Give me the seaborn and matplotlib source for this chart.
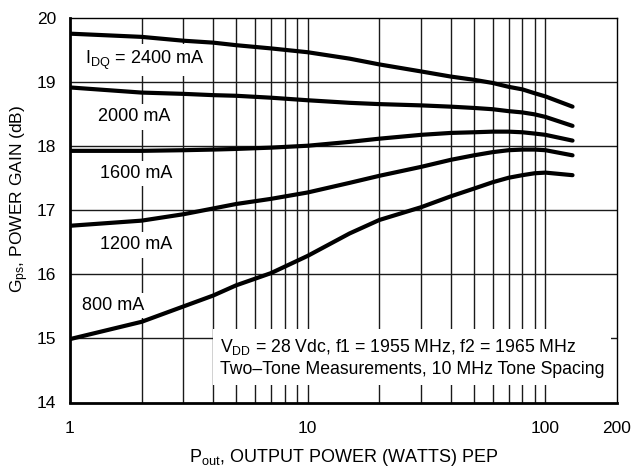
import numpy as np
import pandas as pd
import matplotlib
matplotlib.use("Agg")
import matplotlib.pyplot as plt
import seaborn as sns
from matplotlib.ticker import FixedLocator, NullFormatter

# ---- data ----
pout = [1, 2, 3, 4, 5, 7, 10, 15, 20, 30, 40, 50, 60, 70, 80, 90, 100, 130]
g2400 = [19.76, 19.71, 19.65, 19.62, 19.58, 19.53, 19.47, 19.37, 19.28, 19.17, 19.09, 19.04, 18.99, 18.93, 18.89, 18.83, 18.78, 18.62]
g2000 = [18.92, 18.84, 18.82, 18.80, 18.79, 18.76, 18.72, 18.68, 18.66, 18.64, 18.62, 18.60, 18.58, 18.55, 18.53, 18.50, 18.46, 18.32]
g1600 = [17.93, 17.93, 17.94, 17.95, 17.96, 17.98, 18.01, 18.07, 18.12, 18.18, 18.21, 18.22, 18.23, 18.23, 18.22, 18.20, 18.18, 18.09]
g1200 = [16.76, 16.84, 16.94, 17.03, 17.10, 17.18, 17.28, 17.43, 17.54, 17.68, 17.79, 17.86, 17.91, 17.94, 17.95, 17.95, 17.94, 17.86]
g800 = [14.99, 15.26, 15.50, 15.67, 15.83, 16.02, 16.29, 16.64, 16.85, 17.05, 17.22, 17.34, 17.44, 17.51, 17.55, 17.58, 17.59, 17.55]
series_names = ["2400", "2000", "1600", "1200", "800"]
xticks = [1, 10, 100, 200]
xticklabels = ["1", "10", "100", "200"]
yticks = [14, 15, 16, 17, 18, 19, 20]

frames = []
for name, vals in zip(series_names, [g2400, g2000, g1600, g1200, g800]):
    frames.append(pd.DataFrame({"Pout": pout, "Gps": vals, "IDQ": name}))
df = pd.concat(frames, ignore_index=True)

sns.set_style("white")
plt.rcParams["font.family"] = ["Liberation Sans", "DejaVu Sans"]
plt.rcParams["mathtext.fontset"] = "custom"
plt.rcParams["mathtext.rm"] = "Liberation Sans"
plt.rcParams["mathtext.it"] = "Liberation Sans"
plt.rcParams["text.color"] = "black"
plt.rcParams["axes.labelcolor"] = "black"
plt.rcParams["xtick.color"] = "black"
plt.rcParams["ytick.color"] = "black"

fig = plt.figure(figsize=(6.34, 4.74), dpi=100)
ax = fig.add_axes([70 / 634, 1 - 402.5 / 474, (617 - 70) / 634, (402.5 - 18.3) / 474])

ax.set_xscale("log")
ax.set_xlim(1, 200)
ax.set_ylim(14, 20)

# grid: minor log lines 2..100, horizontal lines
vgrid = [v for d in (1, 10) for v in np.arange(1, 10) * d][1:] + [100]
for v in vgrid:
    ax.axvline(v, color="#1a1a1a", lw=1.0, zorder=1)
for h in [15, 16, 17, 18, 19]:
    ax.axhline(h, color="#1a1a1a", lw=1.0, zorder=1)

sns.lineplot(data=df, x="Pout", y="Gps", hue="IDQ", palette=["black"] * 5,
             linewidth=3.0, legend=False, ax=ax, zorder=3, sort=True)
for ln in ax.lines[-5:]:
    ln.set_solid_capstyle("round")
    ln.set_solid_joinstyle("round")

ax.xaxis.set_major_locator(FixedLocator(xticks))
ax.set_xticklabels(xticklabels)
ax.xaxis.set_minor_formatter(NullFormatter())
ax.xaxis.set_minor_locator(FixedLocator([]))
ax.set_yticks(yticks)
ax.tick_params(axis="x", length=0, labelsize=12.5, pad=13, labelcolor="black")
ax.tick_params(axis="y", length=0, labelsize=12.5, pad=10, labelcolor="black")

for s in ["left", "bottom"]:
    ax.spines[s].set_linewidth(2.0)
for s in ["top", "right"]:
    ax.spines[s].set_linewidth(1.0)
for s in ax.spines.values():
    s.set_color("black")

ax.set_xlabel(r"P$_{\mathregular{out}}$, OUTPUT POWER (WATTS) PEP", fontsize=13,
              va="baseline", ha="center", color="black")
ax.xaxis.set_label_coords(0.5, (402.5 - 462.5) / 384.2)
ax.set_ylabel(r"G$_{\mathregular{ps}}$, POWER GAIN (dB)", fontsize=12.5,
              va="center", ha="center", color="black")
ax.yaxis.set_label_coords((20 - 70) / 547, (402.5 - 199) / 384.2)

box = dict(facecolor="white", edgecolor="none", pad=3)
fs = 13
ax.text(1.156, 19.35, r"I$_{\mathregular{DQ}}$ = 2400 mA", fontsize=fs, va="center", ha="left", bbox=box, zorder=2, color="black")
ax.text(1.311, 18.46, "2000 mA", fontsize=fs, va="center", ha="left", bbox=box, zorder=2, color="black")
ax.text(1.337, 17.58, "1600 mA", fontsize=fs, va="center", ha="left", bbox=box, zorder=2, color="black")
ax.text(1.337, 16.46, "1200 mA", fontsize=fs, va="center", ha="left", bbox=box, zorder=2, color="black")
ax.text(1.123, 15.51, "800 mA", fontsize=fs, va="center", ha="left", bbox=box, zorder=2, color="black")
ax.text(4.27, 14.70,
        "V$_{\\mathregular{DD}}$ = 28 Vdc, f1 = 1955 MHz, f2 = 1965 MHz\nTwo\u2013Tone Measurements, 10 MHz Tone Spacing",
        fontsize=12.7, va="center", ha="left", linespacing=1.35, color="black",
        bbox=dict(facecolor="white", edgecolor="none", pad=5), zorder=2)

fig.savefig("out.png", dpi=100)
